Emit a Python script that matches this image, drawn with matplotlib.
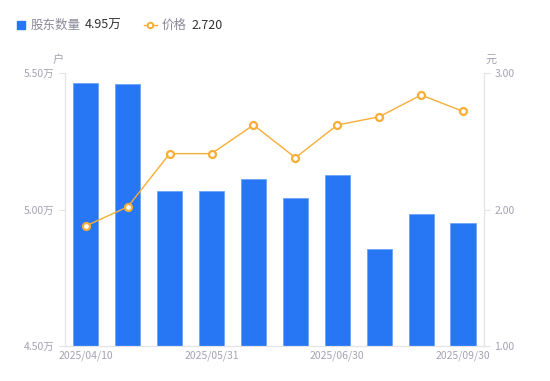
import matplotlib
matplotlib.use('Agg')
import matplotlib.pyplot as plt
import numpy as np

plt.rcParams['font.family'] = ['Noto Sans CJK SC', 'DejaVu Sans']

dates = ['2025/04/10', '2025/04/20', '2025/04/30', '2025/05/31', '2025/06/10',
         '2025/06/20', '2025/06/30', '2025/07/31', '2025/08/31', '2025/09/30']
holders = [5.463, 5.460, 5.068, 5.068, 5.112, 5.042, 5.126, 4.855, 4.984, 4.950]
price = [1.88, 2.02, 2.41, 2.41, 2.62, 2.38, 2.62, 2.68, 2.84, 2.72]
left_ticks = [4.50, 5.00, 5.50]
right_ticks = [1.00, 2.00, 3.00]

BLUE = '#2777F5'
ORANGE = '#F8AE36'
GRAY = '#A3A3B3'
AXIS = '#E3E3E8'

fig = plt.figure(figsize=(5.5, 3.81), dpi=100)
ax = fig.add_axes([0.118, 0.092, 0.762, 0.716])
ax2 = ax.twinx()

x = np.arange(len(dates))
ax.bar(x, [h - 4.5 for h in holders], bottom=4.5, width=0.6, color=BLUE,
       edgecolor='#6FA3F8', linewidth=0.6, zorder=2)
ax.set_ylim(4.5, 5.5)
ax.set_xlim(-0.5, len(dates) - 0.5)
ax.set_yticks(left_ticks)
ax.set_yticklabels(['%.2f万' % v for v in left_ticks])
ax.set_xticks(x[::3])
ax.set_xticklabels(dates[::3])

ax2.plot(x, price, color=ORANGE, linewidth=1.0, marker='o', markersize=5,
         markerfacecolor='white', markeredgecolor=ORANGE, markeredgewidth=1.6,
         zorder=3)
ax2.set_ylim(1, 3)
ax2.set_yticks(right_ticks)
ax2.set_yticklabels(['%.2f' % v for v in right_ticks])

for a in (ax, ax2):
    for s in a.spines.values():
        s.set_color(AXIS)
    a.spines['top'].set_visible(False)
    a.tick_params(colors=AXIS, labelcolor=GRAY, labelsize=7.5, length=4,
                  width=0.8)
ax.tick_params(axis='x', length=0, pad=3)

fig.text(0.105, 0.842, '户', color=GRAY, fontsize=8, ha='center', va='center')
fig.text(0.892, 0.842, '元', color=GRAY, fontsize=8, ha='center', va='center')

# legend drawn by hand
ly = 0.934
fig.patches.append(plt.Rectangle((0.031, ly - 0.011), 0.015, 0.022,
                                 color=BLUE, transform=fig.transFigure,
                                 figure=fig))
fig.text(0.056, ly, '股东数量', color='#8A8A99', fontsize=9, va='center')
fig.text(0.154, ly, '%.2f万' % holders[-1], color='#333333', fontsize=9,
         va='center')
fig.lines.append(plt.Line2D([0.262, 0.285], [ly, ly], color=ORANGE,
                            linewidth=1.0, transform=fig.transFigure,
                            figure=fig, zorder=1))
fig.lines.append(plt.Line2D([0.2735], [ly], color=ORANGE, linestyle='none',
                            marker='o', markersize=4,
                            markerfacecolor='white', markeredgewidth=1.4,
                            transform=fig.transFigure, figure=fig))
fig.text(0.293, ly, '价格', color='#8A8A99', fontsize=9, va='center')
fig.text(0.349, ly, '%.3f' % price[-1], color='#333333', fontsize=9,
         va='center')

fig.savefig('out.png', dpi=100)
